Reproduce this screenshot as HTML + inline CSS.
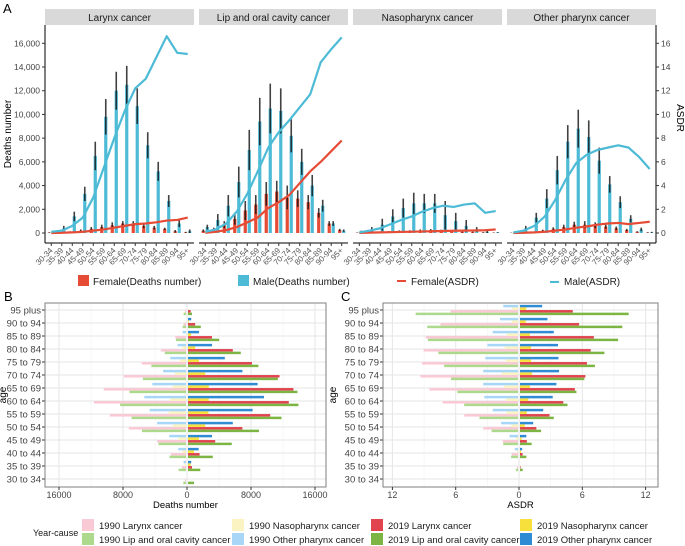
<!DOCTYPE html>
<html><head><meta charset="utf-8"><style>
html,body{margin:0;padding:0;background:#fff;}
svg{display:block;font-family:"Liberation Sans",Arial,sans-serif;}
</style></head><body>
<svg id="chart" width="685" height="546" viewBox="0 0 685 546" xmlns="http://www.w3.org/2000/svg"></svg>
<script>
// ===== Panel A data =====
const ages = ["30-34","35-39","40-44","45-49","50-54","55-59","60-64","65-69","70-74","75-79","80-84","85-89","90-94","95+"];
const facets = ["Larynx cancer","Lip and oral cavity cancer","Nasopharynx cancer","Other pharynx cancer"];
const maleDeathsLarynx = [100,400,1400,3300,6500,9800,12000,12500,10700,7400,5200,2700,800,150];
const maleHiLarynx = [200,600,1800,3900,7700,11300,13600,14100,12200,8500,6000,3200,1100,300];
const femDeathsLarynx = [30,60,100,200,350,500,650,800,800,600,450,350,150,50];
const femHiLarynx = [60,100,150,300,500,700,900,1000,1000,800,600,450,250,100];
const maleAsdrLarynx = [0.1,0.2,0.6,1.3,3.0,5.5,8.0,10.3,12.2,13.0,14.8,16.6,15.2,15.1];
const femAsdrLarynx = [0,0.02,0.05,0.1,0.2,0.3,0.45,0.6,0.75,0.8,0.9,1.05,1.1,1.3];

const maleDeathsLip = [500,1100,2300,4300,7000,9400,10500,10300,8200,6000,4000,2300,800,200];
const maleHiLip = [700,1600,3200,5600,8700,11400,12600,12200,9600,7100,4900,2800,1000,300];
const femDeathsLip = [200,300,700,1200,1900,2400,3300,3500,3000,2900,2600,1700,800,250];
const femHiLip = [300,450,1000,1700,2700,3200,4300,4400,4000,3600,3200,2100,1000,350];
const maleAsdrLip = [0.1,0.3,0.8,1.8,3.3,5.2,7.2,8.5,9.5,10.6,11.7,14.4,15.5,16.5];
const femAsdrLip = [0.02,0.1,0.25,0.5,0.9,1.3,2.1,2.6,3.2,4.2,5.2,6.0,6.9,7.8];

const maleDeathsNaso = [100,300,700,1400,2100,2500,2500,2500,1500,1000,600,300,100,50];
const maleHiNaso = [200,500,1200,2000,2900,3400,3300,3300,2700,1700,1100,500,200,80];
const femDeathsNaso = [20,50,80,100,150,150,200,250,200,150,100,80,40,20];
const femHiNaso = [40,80,120,160,220,230,300,330,280,220,160,120,70,40];
const maleAsdrNaso = [0.05,0.2,0.4,0.75,1.1,1.4,1.8,2.1,2.3,2.2,2.4,2.5,1.7,1.85];
const femAsdrNaso = [0.01,0.03,0.05,0.07,0.09,0.11,0.13,0.15,0.17,0.19,0.2,0.21,0.23,0.3];

const maleDeathsOther = [50,400,1300,2900,5300,7700,8800,8100,6100,4100,2600,1200,300,50];
const maleHiOther = [100,600,1700,3700,6500,9100,10400,9500,7200,4800,3100,1500,450,100];
const femDeathsOther = [10,30,80,200,350,500,700,700,650,550,400,250,100,30];
const femHiOther = [30,60,130,280,480,700,950,1000,900,750,550,350,150,60];
const maleAsdrOther = [0.05,0.2,0.6,1.4,2.8,4.5,5.9,6.6,7.0,7.2,7.4,7.2,6.4,5.4];
const femAsdrOther = [0,0.02,0.05,0.1,0.2,0.3,0.45,0.55,0.7,0.8,0.85,0.75,0.85,0.95];

const deathTicks = [0,2000,4000,6000,8000,10000,12000,14000,16000];
const deathTickLabels = ["0","2,000","4,000","6,000","8,000","10,000","12,000","14,000","16,000"];
const asdrTicks = [0,2,4,6,8,10,12,14,16];

// ===== Panel B / C data =====
const pyrAges = ["95 plus","90 to 94","85 to 89","80 to 84","75 to 79","70 to 74","65 to 69","60 to 64","55 to 59","50 to 54","45 to 49","40 to 44","35 to 39","30 to 34"];
const d2019Other = [0,400,1370,3000,4600,6800,8700,9500,8080,5600,3000,1330,400,0];
const d2019Naso = [0,100,400,900,1370,2150,2600,2600,2570,2150,1370,750,330,0];
const d2019Larynx = [330,900,3000,5600,8000,11440,13180,12600,10280,6800,3400,1450,500,0];
const d2019Lip = [500,1600,3900,6600,8800,11230,13680,13800,11690,8870,5470,3100,1530,750];
const d1990Other = [0,0,420,1050,1970,2860,4200,5210,4540,3610,2100,970,300,0];
const d1990Naso = [0,0,0,460,760,1390,1680,1970,2180,1680,970,460,170,0];
const d1990Larynx = [100,300,1340,3150,5540,7770,10290,11500,9530,7140,3610,1890,500,130];
const d1990Lip = [300,420,1260,2650,4330,5380,7060,8230,6800,5500,3440,2060,920,340];
const a2019Other = [2.1,2.6,3.2,3.6,3.65,3.7,3.45,3.1,2.2,1.25,0.6,0.2,0,0];
const a2019Naso = [0.6,0.55,0.95,1.05,1.05,1.15,0.95,0.8,0.65,0.45,0.15,0.1,0,0];
const a2019Larynx = [5.0,5.6,7.0,6.7,6.35,6.2,5.2,4.1,2.8,1.55,0.65,0.25,0.05,0];
const a2019Lip = [10.3,9.7,9.3,8.0,7.1,6.1,5.35,4.5,3.2,2.0,1.1,0.6,0.25,0];
const a1990Other = [1.4,1.7,2.4,2.9,3.1,3.3,3.3,3.2,2.4,1.6,0.8,0.3,0,0];
const a1990Naso = [0.6,0.6,1.05,1.25,1.15,1.55,1.3,1.15,1.1,0.65,0.2,0.1,0,0];
const a1990Larynx = [6.4,7.35,8.75,8.95,9.1,9.25,8.4,7.15,5.1,3.3,1.45,0.6,0.1,0];
const a1990Lip = [9.7,8.6,8.55,7.55,7.0,6.35,5.75,5.1,3.65,2.5,1.4,0.65,0.2,0];
const deathAxisTicks = [-16000,-8000,0,8000,16000];
const deathAxisLabels = ["16000","8000","0","8000","16000"];
const asdrAxisTicks = [-12,-6,0,6,12];
const asdrAxisLabels = ["12","6","0","6","12"];

const NS = "http://www.w3.org/2000/svg";
const svg = document.getElementById("chart");
function mk(tag, attrs, parent){
  const e = document.createElementNS(NS, tag);
  for (const k in attrs) e.setAttribute(k, attrs[k]);
  (parent||svg).appendChild(e);
  return e;
}
function txt(s, attrs, parent){ const e = mk("text", attrs, parent); e.textContent = s; return e; }

const C_MALE = "#4dbbd5", C_FEM = "#e64b35";

// ===== Panel A =====
const gA = mk("g", {});


let el;
el = txt("A", {x:3, y:13, "font-size":13, fill:"#000"}, gA);



const yTop = 25, yBase = 233, yAxis = 243;
const yScaleD = v => yBase - v * (189.7/16000);
const yScaleA = a => yBase - a * (189.7/16);
const facetX0 = [45,199,353,507];
const facetW = 149;
const step = facetW / 14.2;
const xBand = (f, i) => facetX0[f] + (0.6 + i) * step;

const mD = [maleDeathsLarynx, maleDeathsLip, maleDeathsNaso, maleDeathsOther];
const mH = [maleHiLarynx, maleHiLip, maleHiNaso, maleHiOther];
const fD = [femDeathsLarynx, femDeathsLip, femDeathsNaso, femDeathsOther];
const fH = [femHiLarynx, femHiLip, femHiNaso, femHiOther];
const mA = [maleAsdrLarynx, maleAsdrLip, maleAsdrNaso, maleAsdrOther];
const fA = [femAsdrLarynx, femAsdrLip, femAsdrNaso, femAsdrOther];

el = mk("line", {x1:45, y1:yTop, x2:45, y2:yAxis, stroke:"#000", "stroke-width":1}, gA);


deathTicks.forEach((t, k) => {
  const y = yScaleD(t);
  mk("line", {x1:42, y1:y, x2:45, y2:y, stroke:"#333"}, gA);
  el = txt(deathTickLabels[k], {x:40, y:y+3, "font-size":8.5, fill:"#444", "text-anchor":"end"}, gA);
  
  
});
el = txt("Deaths number", {x:0, y:0, "font-size":10, fill:"#000", "text-anchor":"middle", transform:"translate(11,134) rotate(-90)"}, gA);



el = mk("line", {x1:656, y1:yTop, x2:656, y2:yAxis, stroke:"#000", "stroke-width":1}, gA);


asdrTicks.forEach(t => {
  const y = yScaleA(t);
  mk("line", {x1:656, y1:y, x2:659, y2:y, stroke:"#333"}, gA);
  el = txt(String(t), {x:661, y:y+3, "font-size":8.5, fill:"#444"}, gA);
  
  
});
el = txt("ASDR", {x:0, y:0, "font-size":10, fill:"#000", "text-anchor":"middle", transform:"translate(677,118) rotate(90)"}, gA);



facets.forEach((name, f) => {
  const g = mk("g", {}, gA);
  
  
  const x0 = facetX0[f];
  el = mk("rect", {x:x0, y:9, width:facetW, height:16, fill:"#d9d9d9"}, g);
  
  
  el = txt(name, {x:x0+facetW/2, y:21, "font-size":10, fill:"#1a1a1a", "text-anchor":"middle"}, g);
  
  
  el = mk("line", {x1:x0, y1:yAxis, x2:x0+facetW, y2:yAxis, stroke:"#000"}, g);
  
  
  ages.forEach((a, i) => {
    const xc = xBand(f, i);
    mk("line", {x1:xc, y1:yAxis, x2:xc, y2:yAxis+3, stroke:"#333"}, g);
    el = txt(a, {x:0, y:0, "font-size":8, fill:"#555", "text-anchor":"end", transform:`translate(${xc+2},${yAxis+8}) rotate(-45)`}, g);
    
    
    const fv = fD[f][i], fh = fH[f][i], fl = Math.max(0, 2*fv - fh);
    el = mk("rect", {x:xc-3.6, y:yScaleD(fv), width:3.2, height:yBase-yScaleD(fv), fill:C_FEM}, g);
    
    
    el = mk("line", {x1:xc-2, y1:yScaleD(fl), x2:xc-2, y2:yScaleD(fh), stroke:"#111", "stroke-width":1.6, "stroke-opacity":0.8}, g);
    
    
    const mv = mD[f][i], mh = mH[f][i], ml = Math.max(0, 2*mv - mh);
    el = mk("rect", {x:xc+0.4, y:yScaleD(mv), width:3.2, height:yBase-yScaleD(mv), fill:C_MALE}, g);
    
    
    el = mk("line", {x1:xc+2, y1:yScaleD(ml), x2:xc+2, y2:yScaleD(mh), stroke:"#111", "stroke-width":1.6, "stroke-opacity":0.8}, g);
    
    
  });
  const ptsF = fA[f].map((v, i) => xBand(f, i) + "," + yScaleA(v)).join(" ");
  const ptsM = mA[f].map((v, i) => xBand(f, i) + "," + yScaleA(v)).join(" ");
  el = mk("polyline", {points:ptsF, fill:"none", stroke:C_FEM, "stroke-width":2.2, "stroke-linejoin":"round"}, g);
  
  
  el = mk("polyline", {points:ptsM, fill:"none", stroke:C_MALE, "stroke-width":2.2, "stroke-linejoin":"round"}, g);
  
  
});

const lgA = mk("g", {}, gA);


el = mk("rect", {x:78, y:275, width:11, height:11, fill:C_FEM}, lgA);


el = txt("Female(Deaths number)", {x:93, y:285, "font-size":10, fill:"#1a1a1a"}, lgA);


el = mk("rect", {x:238, y:275, width:11, height:11, fill:C_MALE}, lgA);


el = txt("Male(Deaths number)", {x:253, y:285, "font-size":10, fill:"#1a1a1a"}, lgA);


el = mk("line", {x1:397, y1:281, x2:406, y2:281, stroke:C_FEM, "stroke-width":2}, lgA);


el = txt("Female(ASDR)", {x:411, y:285, "font-size":10, fill:"#1a1a1a"}, lgA);


el = mk("line", {x1:550, y1:282, x2:559, y2:282, stroke:C_MALE, "stroke-width":2}, lgA);


el = txt("Male(ASDR)", {x:564, y:285, "font-size":10, fill:"#1a1a1a"}, lgA);



// ===== Panels B & C =====
const COL = {o19:"#2f8bd3", n19:"#f8e03c", l19:"#e2444f", p19:"#7cb544",
             o90:"#a7d6f7", n90:"#fbf4c2", l90:"#f9c9d5", p90:"#acd98c"};
const boxY0 = 303, boxY1 = 487;
const rowY = i => 310 + i * 13.0;
const offs = [-3.9, -1.3, 1.3, 3.9];

function pyramid(opt){
  const g = mk("g", {});
  
  
  const {bx0, bx1, xs} = opt;
  mk("rect", {x:bx0, y:boxY0, width:bx1-bx0, height:boxY1-boxY0, fill:"#fff"}, g);
  opt.minor.forEach(t => mk("line", {x1:xs(t), y1:boxY0, x2:xs(t), y2:boxY1, stroke:"#f2f2f2", "stroke-width":0.6}, g));
  opt.ticks.forEach(t => mk("line", {x1:xs(t), y1:boxY0, x2:xs(t), y2:boxY1, stroke:"#e6e6e6", "stroke-width":1}, g));
  pyrAges.forEach((a, i) => mk("line", {x1:bx0, y1:rowY(i), x2:bx1, y2:rowY(i), stroke:"#e6e6e6", "stroke-width":1}, g));
  const ser19 = [[opt.s19[0],COL.o19,"2019-other-pharynx"],[opt.s19[1],COL.n19,"2019-nasopharynx"],[opt.s19[2],COL.l19,"2019-larynx"],[opt.s19[3],COL.p19,"2019-lip-oral"]];
  const ser90 = [[opt.s90[0],COL.o90,"1990-other-pharynx"],[opt.s90[1],COL.n90,"1990-nasopharynx"],[opt.s90[2],COL.l90,"1990-larynx"],[opt.s90[3],COL.p90,"1990-lip-oral"]];
  pyrAges.forEach((a, i) => {
    ser19.forEach((s, k) => {
      const v = s[0][i];
      if (v <= 0) return;
      const e = mk("rect", {x:xs(0)+1, y:rowY(i)+offs[k]-1.25, width:xs(v)-xs(0), height:2.5, fill:s[1]}, g);
      
      
    });
    ser90.forEach((s, k) => {
      const v = s[0][i];
      if (v <= 0) return;
      const e = mk("rect", {x:xs(-v)-1, y:rowY(i)+offs[k]-1.25, width:xs(0)-xs(-v), height:2.5, fill:s[1]}, g);
      
      
    });
    mk("line", {x1:bx0-3, y1:rowY(i), x2:bx0, y2:rowY(i), stroke:"#333"}, g);
    const e = txt(a, {x:bx0-4, y:rowY(i)+3.5, "font-size":9.5, fill:"#444", "text-anchor":"end"}, g);
    
    
  });
  const bord = mk("rect", {x:bx0, y:boxY0, width:bx1-bx0, height:boxY1-boxY0, fill:"none", stroke:"#7f7f7f", "stroke-width":1}, g);
  
  
  opt.ticks.forEach((t, k) => {
    mk("line", {x1:xs(t), y1:boxY1, x2:xs(t), y2:boxY1+3, stroke:"#333"}, g);
    const e = txt(opt.labels[k], {x:xs(t), y:boxY1+11, "font-size":9, fill:"#444", "text-anchor":"middle"}, g);
    
    
  });
  let e = txt(opt.title, {x:(bx0+bx1)/2, y:508, "font-size":9.5, fill:"#000", "text-anchor":"middle"}, g);
  
  
  e = txt("age", {x:0, y:0, "font-size":10, fill:"#000", "text-anchor":"middle", transform:`translate(${opt.ageX},395) rotate(-90)`}, g);
  
  
  e = txt(opt.letter, {x:opt.letterX, y:301, "font-size":13, fill:"#000"}, g);
  
  
}
pyramid({name:"panel-b", letter:"B", letterX:4, ageX:6, bx0:45, bx1:326, title:"Deaths number",
  xs: v => 187 + v * 64/8000, ticks:deathAxisTicks, labels:deathAxisLabels, minor:[-12000,-4000,4000,12000],
  s19:[d2019Other,d2019Naso,d2019Larynx,d2019Lip], s90:[d1990Other,d1990Naso,d1990Larynx,d1990Lip]});
pyramid({name:"panel-c", letter:"C", letterX:341, ageX:336, bx0:383, bx1:658, title:"ASDR",
  xs: v => 519 + v * 10.55, ticks:asdrAxisTicks, labels:asdrAxisLabels, minor:[-9,-3,3,9],
  s19:[a2019Other,a2019Naso,a2019Larynx,a2019Lip], s90:[a1990Other,a1990Naso,a1990Larynx,a1990Lip]});

const lg = mk("g", {});


el = txt("Year-cause", {x:33, y:536, "font-size":9, fill:"#1a1a1a"}, lg);


const legItems = [
  ["1990 Larynx cancer", COL.l90, 82, 521], ["1990 Lip and oral cavity cancer", COL.p90, 82, 535],
  ["1990 Nasopharynx cancer", COL.n90, 232, 521], ["1990 Other pharynx cancer", COL.o90, 232, 535],
  ["2019 Larynx cancer", COL.l19, 371, 521], ["2019 Lip and oral cavity cancer", COL.p19, 371, 535],
  ["2019 Nasopharynx cancer", COL.n19, 520, 521], ["2019 Other pharynx cancer", COL.o19, 520, 535]];
legItems.forEach(it => {
  const k = mk("rect", {x:it[2], y:it[3]-2, width:12, height:12, fill:it[1]}, lg);
  
  
  const t = txt(it[0], {x:it[2]+17, y:it[3]+8, "font-size":9.5, fill:"#1a1a1a"}, lg);
  
  
});
</script>
</body></html>
